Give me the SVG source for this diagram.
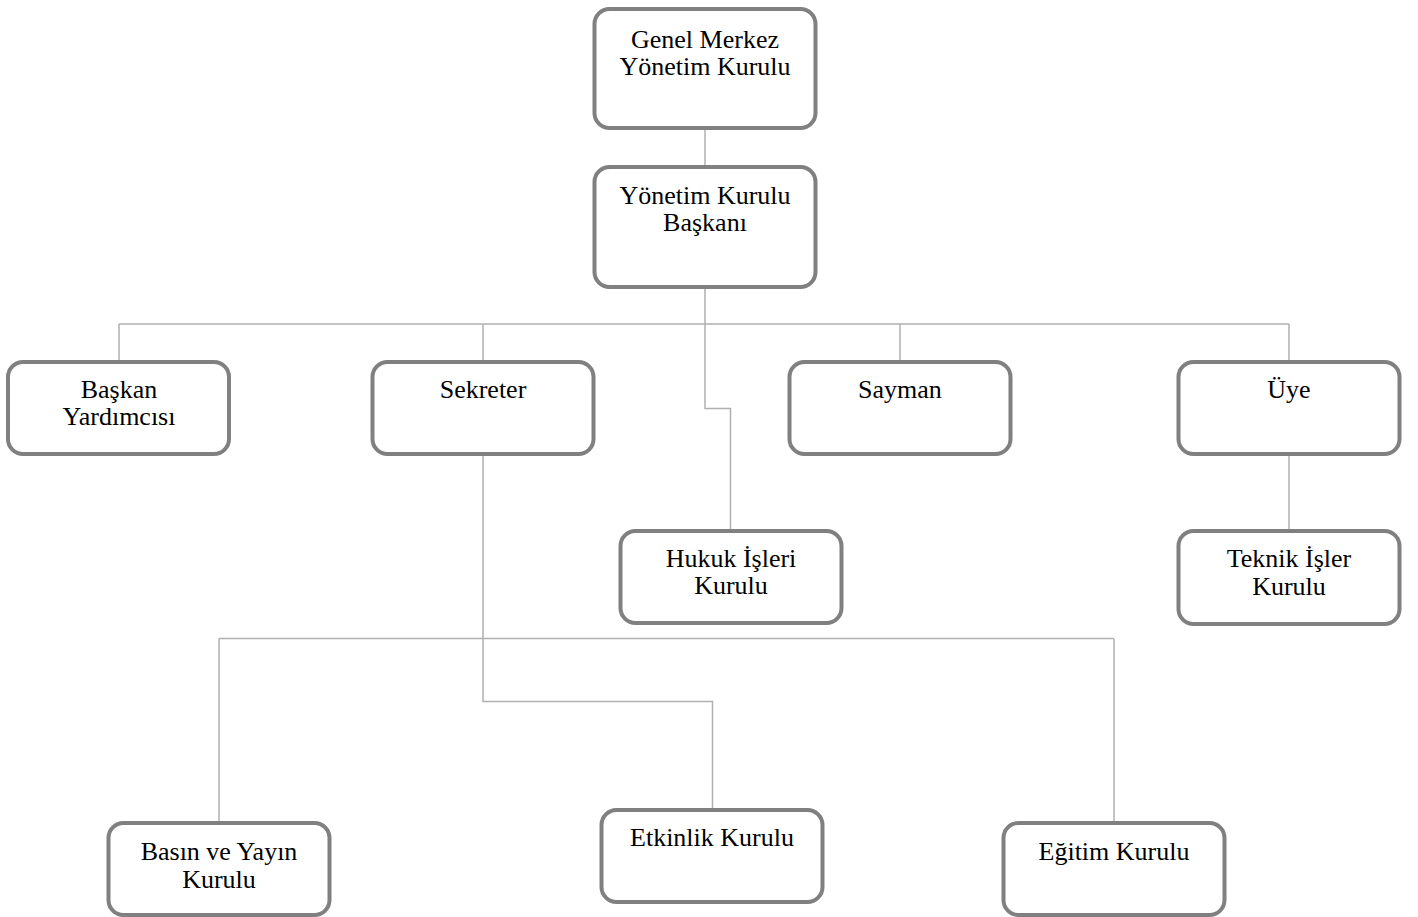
<svg xmlns="http://www.w3.org/2000/svg" width="1418" height="917" viewBox="0 0 1418 917">
<style>
.box{fill:#ffffff;stroke:#808080;stroke-width:4}
.t{font-family:"Liberation Serif","Times New Roman",serif;font-size:26px;fill:#000000;text-anchor:middle}
.c{fill:none;stroke:#b0b0b0;stroke-width:1.5}
</style>
<rect width="1418" height="917" fill="#ffffff"/>
<g id="connectors">
<path class="c" d="M705 130V165"/>
<path class="c" d="M705 289V324M119 324H1289M119 324V362M483 324V362M900 324V362M1289 324V362"/>
<path class="c" d="M705 324V408.5H730.5V530"/>
<path class="c" d="M1289 456V530"/>
<path class="c" d="M483 456V701.5H712.5V808"/>
<path class="c" d="M219 638.5H1114M219 638.5V822M1114 638.5V822"/>
</g>
<g id="n-genel"><rect class="box" x="594.5" y="9" width="221" height="119" rx="15"/><text class="t" x="705" y="48">Genel Merkez</text><text class="t" x="705" y="75">Yönetim Kurulu</text></g>
<g id="n-baskan"><rect class="box" x="594.5" y="167" width="221" height="120" rx="15"/><text class="t" x="705" y="204">Yönetim Kurulu</text><text class="t" x="705" y="231">Başkanı</text></g>
<g id="n-yardimci"><rect class="box" x="8" y="362" width="221" height="92" rx="15"/><text class="t" x="119" y="398">Başkan</text><text class="t" x="119" y="425">Yardımcısı</text></g>
<g id="n-sekreter"><rect class="box" x="372.5" y="362" width="221" height="92" rx="15"/><text class="t" x="483" y="398">Sekreter</text></g>
<g id="n-sayman"><rect class="box" x="789.5" y="362" width="221" height="92" rx="15"/><text class="t" x="900" y="398">Sayman</text></g>
<g id="n-uye"><rect class="box" x="1178.5" y="362" width="221" height="92" rx="15"/><text class="t" x="1289" y="398">Üye</text></g>
<g id="n-hukuk"><rect class="box" x="620.5" y="531" width="221" height="92" rx="15"/><text class="t" x="731" y="567">Hukuk İşleri</text><text class="t" x="731" y="594">Kurulu</text></g>
<g id="n-teknik"><rect class="box" x="1178.5" y="531" width="221" height="93" rx="15"/><text class="t" x="1289" y="567">Teknik İşler</text><text class="t" x="1289" y="595">Kurulu</text></g>
<g id="n-basin"><rect class="box" x="108.5" y="823" width="221" height="92" rx="15"/><text class="t" x="219" y="860">Basın ve Yayın</text><text class="t" x="219" y="888">Kurulu</text></g>
<g id="n-etkinlik"><rect class="box" x="601.5" y="810" width="221" height="92" rx="15"/><text class="t" x="712" y="846">Etkinlik Kurulu</text></g>
<g id="n-egitim"><rect class="box" x="1003.5" y="823" width="221" height="92" rx="15"/><text class="t" x="1114" y="860">Eğitim Kurulu</text></g>
</svg>
